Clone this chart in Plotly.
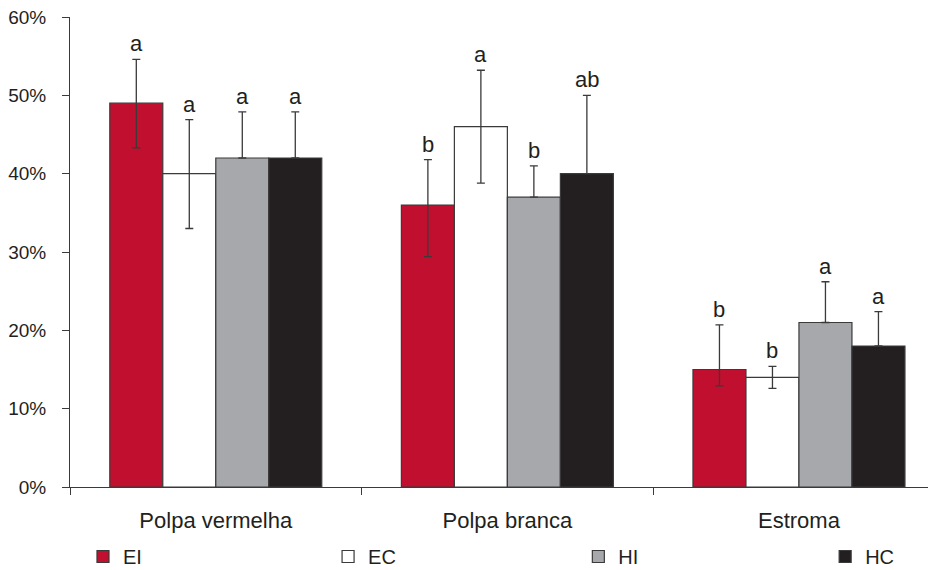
import plotly.graph_objects as go

categories = ["Polpa vermelha", "Polpa branca", "Estroma"]
series_names = ["EI", "EC", "HI", "HC"]
values = {
    "EI": [49, 36, 15],
    "EC": [40, 46, 14],
    "HI": [42, 37, 21],
    "HC": [42, 40, 18],
}
err_plus = {
    "EI": [5.6, 5.8, 5.7],
    "EC": [6.9, 7.2, 1.4],
    "HI": [5.9, 4.0, 5.2],
    "HC": [5.9, 10.0, 4.4],
}
err_minus = {
    "EI": [5.7, 6.6, 2.1],
    "EC": [7.0, 7.2, 1.4],
    "HI": [0, 0, 0],
    "HC": [0, 0, 0],
}
letters = {
    "EI": ["a", "b", "b"],
    "EC": ["a", "a", "b"],
    "HI": ["a", "b", "a"],
    "HC": ["a", "ab", "a"],
}
colors = {"EI": "#C1102F", "EC": "#FFFFFF", "HI": "#A7A8AB", "HC": "#231F20"}
y_ticks = [0, 10, 20, 30, 40, 50, 60]
y_tick_labels = ["0%", "10%", "20%", "30%", "40%", "50%", "60%"]
legend_x = [0.015, 0.298, 0.587, 0.872]

bargap = 0.273
font_family = "Liberation Sans, Arial, sans-serif"

fig = go.Figure()
for i, s in enumerate(series_names):
    fig.add_trace(go.Bar(
        name=s, x=categories, y=values[s],
        legend="legend" if i == 0 else f"legend{i + 1}",
        marker=dict(color=colors[s], line=dict(color="#3a3a3a", width=1.2)),
        error_y=dict(type="data", array=err_plus[s], arrayminus=err_minus[s],
                     symmetric=False, color="#3a3a3a", thickness=1.3, width=4),
    ))

w = (1 - bargap) / len(series_names)
annotations = []
for i, s in enumerate(series_names):
    off = (i - (len(series_names) - 1) / 2) * w
    for j, c in enumerate(categories):
        annotations.append(dict(
            x=j + off, y=values[s][j] + err_plus[s][j], xref="x", yref="y",
            text=letters[s][j], showarrow=False, yanchor="bottom", yshift=1,
            font=dict(size=22, color="#231F20", family=font_family),
        ))

# page body has an 8px margin, so the figure is sized to fit the 936x570 window
layout = dict(
    width=928, height=562,
    margin=dict(l=62, r=0, t=9, b=83, autoexpand=False),
    paper_bgcolor="white", plot_bgcolor="white",
    barmode="group", bargap=bargap, bargroupgap=0,
    font=dict(family=font_family, size=19, color="#231F20"),
    showlegend=True,
    annotations=annotations,
)
for i in range(len(series_names)):
    key = "legend" if i == 0 else f"legend{i + 1}"
    layout[key] = dict(
        orientation="h", x=legend_x[i], y=0.024, xanchor="left", yanchor="middle",
        yref="container", itemwidth=30, bgcolor="rgba(0,0,0,0)",
        font=dict(size=20, color="#231F20", family=font_family),
    )
fig.update_layout(**layout)
fig.update_xaxes(
    range=[-0.5, 2.47], showline=True, linecolor="#3a3a3a", linewidth=1,
    ticks="outside", tickson="boundaries", ticklen=7, tickcolor="#3a3a3a",
    showgrid=False, tickfont=dict(size=22), zeroline=False,
    ticklabelstandoff=14, automargin=False, ticklabeloverflow="allow",
)
fig.update_yaxes(
    range=[0, 60], tickvals=y_ticks, ticktext=y_tick_labels,
    showline=True, linecolor="#3a3a3a", linewidth=1,
    ticks="outside", ticklen=7, tickcolor="#3a3a3a",
    showgrid=False, zeroline=False, tickfont=dict(size=19),
    ticklabelstandoff=12, automargin=False, ticklabeloverflow="allow",
)

fig.write_html("out.html")
